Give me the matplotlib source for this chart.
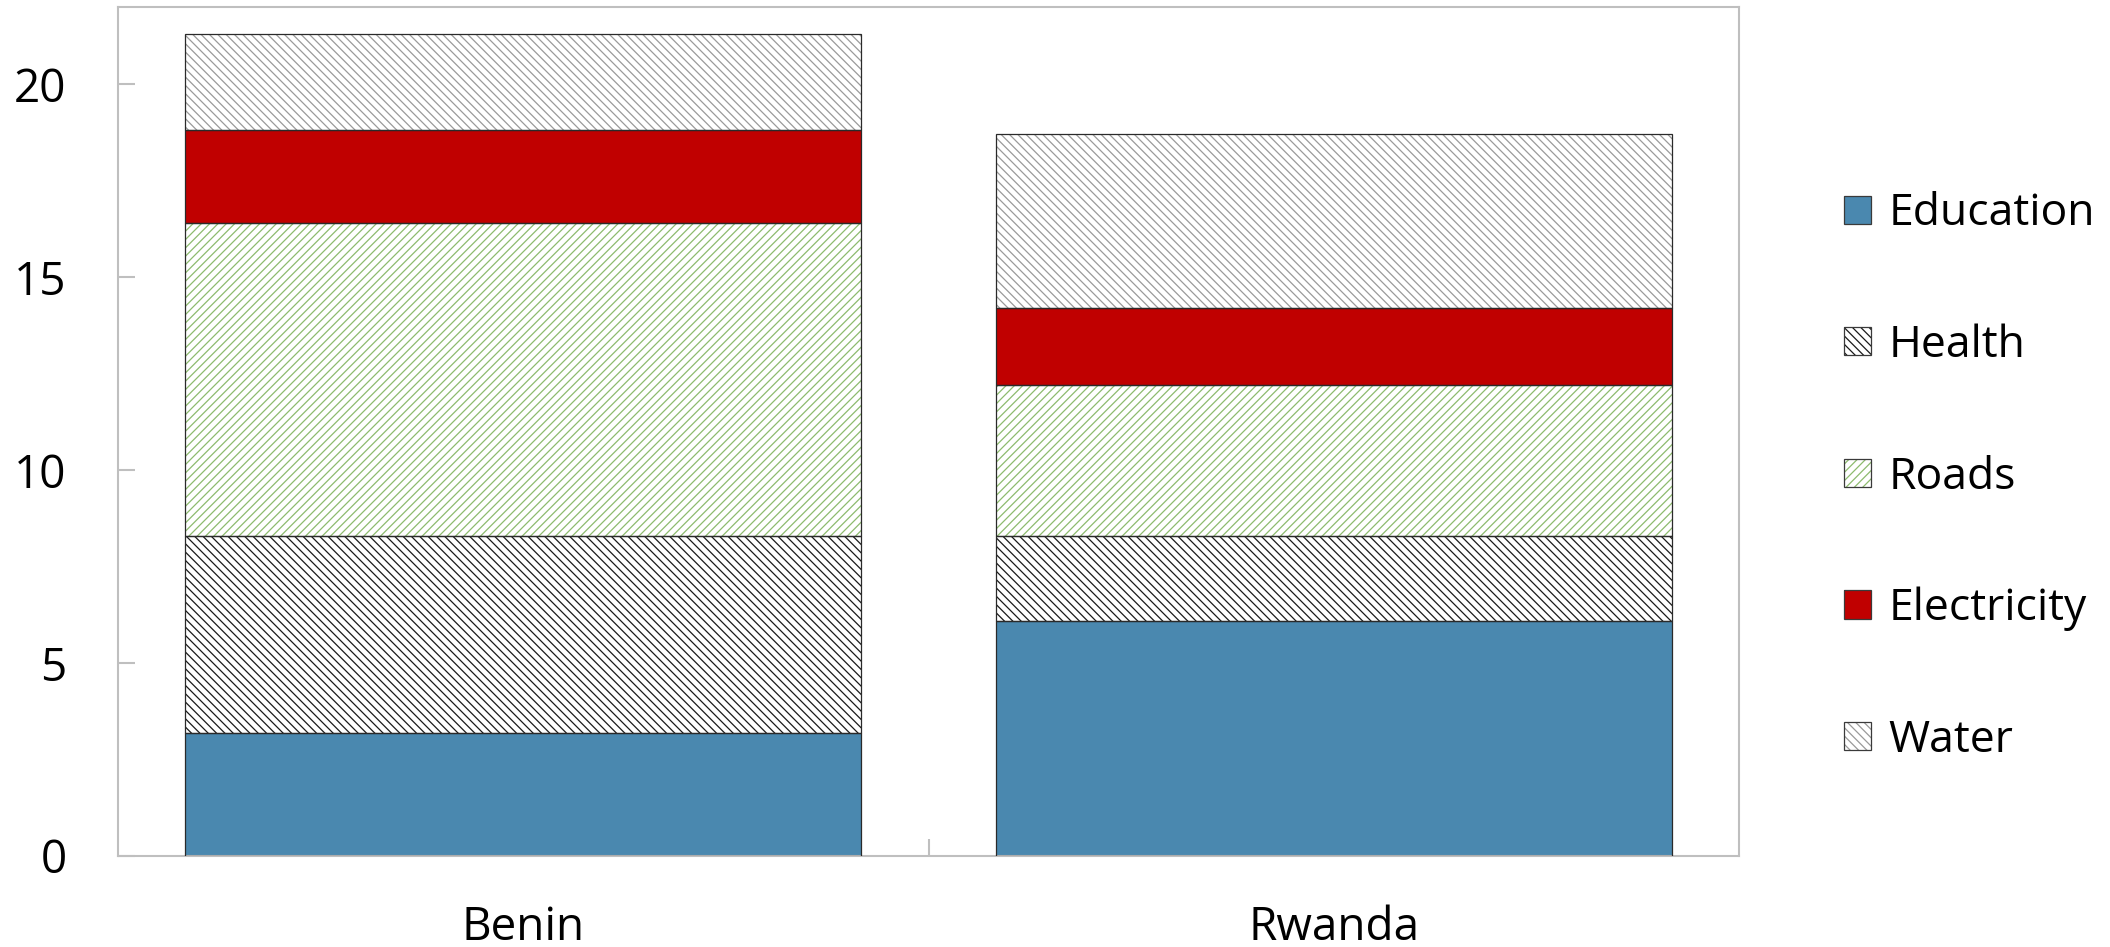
import matplotlib
matplotlib.use("Agg")
import matplotlib.pyplot as plt
from matplotlib.patches import Patch
from matplotlib.legend_handler import HandlerTuple
import numpy as np

countries = ["Benin", "Rwanda"]
sectors = ["Education", "Health", "Roads", "Electricity", "Water"]
education = [3.2, 6.1]
health = [5.1, 2.2]
roads = [8.1, 3.9]
electricity = [2.4, 2.0]
water = [2.5, 4.5]

# face colour, hatch pattern, hatch colour per sector
styles = {
    "Education": ("#4A88AF", "", None),
    "Health": ("white", "\\" * 4, "#1A1A1A"),
    "Roads": ("white", "/" * 4, "#8DBB6E"),
    "Electricity": ("#C00000", "", None),
    "Water": ("white", "\\" * 4, "#9A9A9A"),
}

plt.rcParams["font.family"] = ["Open Sans", "DejaVu Sans"]
plt.rcParams["hatch.linewidth"] = 0.9

fig = plt.figure(figsize=(21.1, 9.47), dpi=100)
ax = fig.add_axes([0.0559, 0.0961, 0.7683, 0.8965])

x = np.arange(len(countries))
width = 0.834
bottom = np.zeros(len(countries))
handles = []
for name, vals in zip(sectors, [education, health, roads, electricity, water]):
    face, hatch, hcol = styles[name]
    if hatch:
        ax.bar(x, vals, width, bottom=bottom, color=face, edgecolor=hcol,
               hatch=hatch, linewidth=0, zorder=2)
        h1 = Patch(facecolor=face, edgecolor=hcol, hatch=hatch, linewidth=0)
    else:
        ax.bar(x, vals, width, bottom=bottom, color=face, linewidth=0, zorder=2)
        h1 = Patch(facecolor=face, linewidth=0)
    ax.bar(x, vals, width, bottom=bottom, fill=False, edgecolor="#2A2A2A",
           linewidth=0.9, zorder=3)
    h2 = Patch(fill=False, edgecolor="#3A3A3A", linewidth=0.9)
    handles.append((h1, h2))
    bottom += np.array(vals)

ax.set_xlim(-0.5, 1.5)
ax.set_ylim(0, 22)
ax.set_yticks([0, 5, 10, 15, 20])

ax.set_xticks([0.5])
ax.set_xticklabels([""])
ax.set_xticks(x, minor=True)
ax.set_xticklabels(countries, minor=True)
ax.tick_params(axis="x", which="minor", length=0, pad=35, labelsize=33)
ax.tick_params(axis="x", which="major", direction="in", length=12,
               width=1.5, color="#BFBFBF")
ax.tick_params(axis="y", direction="in", length=12, width=1.5,
               color="#BFBFBF", pad=37, labelsize=33)

for sp in ax.spines.values():
    sp.set_color("#BFBFBF")
    sp.set_linewidth(1.5)

fig.legend(handles, sectors, handler_map={tuple: HandlerTuple(ndivide=1)},
           loc="center left", bbox_to_anchor=(0.855, 0.496), frameon=False,
           fontsize=32, handlelength=0.6, handleheight=0.6,
           handletextpad=0.4, labelspacing=1.96)

fig.savefig("out.png", dpi=100)
